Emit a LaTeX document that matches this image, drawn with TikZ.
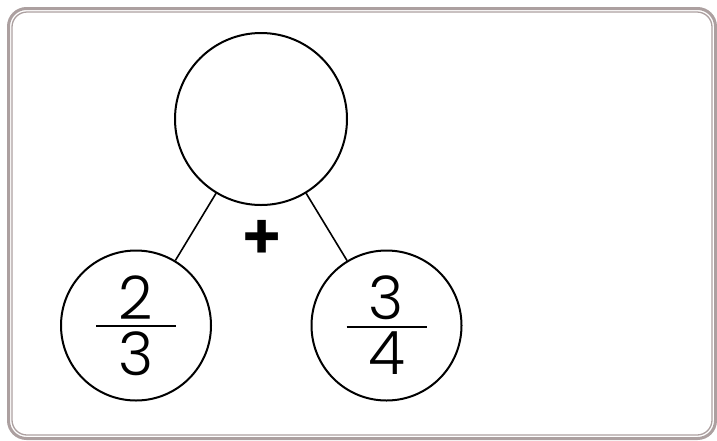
\documentclass[tikz,border=0pt]{standalone}
\usepackage{fontspec}
\setmainfont{Poppins}[UprightFont=*-Light,BoldFont=*-SemiBold]
\usetikzlibrary{calc}
\definecolor{gray1}{RGB}{172,160,160}
\newcommand{\fracpart}[2]{\vbox{\hbox to 80pt{\hss#1\hss}\kern6pt\hrule height 2pt\kern4pt\hbox to 80pt{\hss#2\hss}}}

\begin{document}
\begin{tikzpicture}[x=1pt,y=-1pt]
    \useasboundingbox (0,0) rectangle (717,440);
    \draw[gray1,line width=3pt,rounded corners=18pt] (8.5,8.5) rectangle (715.5,438.5);
    \draw[gray1,line width=1.3pt,rounded corners=15pt] (12,12) rectangle (712,435);
    \tikzset{bubble/.style={circle,draw,line width=2pt,inner sep=0pt}}
    \node[bubble,minimum size=172pt] (whole) at (261,119) {};
    \node[bubble,minimum size=150pt,font=\fontsize{60}{60}\selectfont] (partA) at (136,325.5) {\fracpart{2}{3}};
    \node[bubble,minimum size=150pt,font=\fontsize{60}{60}\selectfont] (partB) at (386.5,325.5) {\fracpart{3}{4}};
    \draw[line width=1.6pt] (whole) -- (partA);
    \draw[line width=1.6pt] (whole) -- (partB);
    \node[font=\fontsize{64}{64}\selectfont\bfseries] (op) at (262,240) {+};
\end{tikzpicture}
\end{document}
